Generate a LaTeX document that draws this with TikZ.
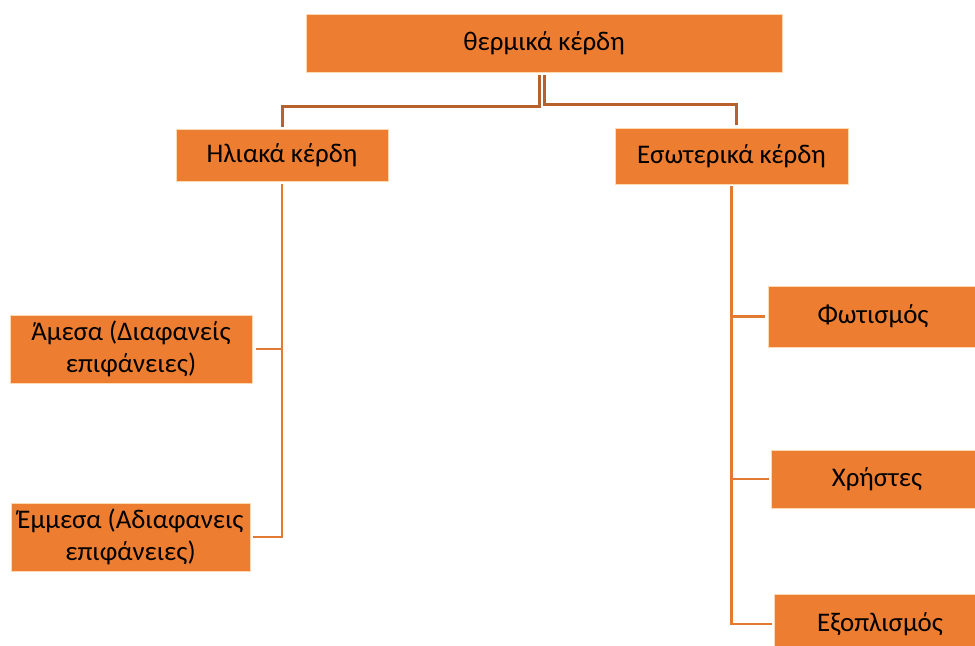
\documentclass[tikz,border=0pt]{standalone}
\usepackage{fontspec}
\setmainfont{Carlito}
\usetikzlibrary{positioning}

\definecolor{boxorange}{HTML}{ED7D31}
\definecolor{topline}{HTML}{B8612C}
\definecolor{subline}{HTML}{E27A34}

\newlength{\pxu}
\setlength{\pxu}{0.02cm}

\begin{document}
\begin{tikzpicture}[x=\pxu, y=-\pxu,
    every node/.style={align=center, font=\fontsize{15.3}{18.3}\selectfont, inner sep=0pt},
    gainbox/.style={fill=boxorange, draw=orange!30, line width=0.4pt},
    toplink/.style={draw=topline, line width=3\pxu},
    sublink/.style={draw=subline, line width=2.8\pxu}]

\useasboundingbox (0,0) rectangle (975,646);

% root
\node[gainbox, minimum width=476\pxu, minimum height=58\pxu] (thermal) at (544,43) {θερμικά κέρδη};

% second level
\node[gainbox, minimum width=212\pxu, minimum height=52\pxu] (solar) at (282,155) {Ηλιακά κέρδη};
\node[gainbox, minimum width=233\pxu, minimum height=56\pxu] (internal) at (731.5,156) {Εσωτερικά κέρδη};

% solar gains
\node[gainbox, minimum width=242\pxu, minimum height=68\pxu] (direct) at (131,349) {Άμεσα (Διαφανείς\\επιφάνειες)};
\node[gainbox, minimum width=239\pxu, minimum height=68\pxu] (indirect) at (130.5,537) {Έμμεσα (Αδιαφανεις\\επιφάνειες)};

% internal gains
\node[gainbox, minimum width=210\pxu, minimum height=61\pxu] (lighting) at (873,316.5) {Φωτισμός};
\node[gainbox, minimum width=212\pxu, minimum height=58\pxu] (users) at (877,479) {Χρήστες};
\node[gainbox, minimum width=212\pxu, minimum height=60\pxu] (equipment) at (880,624) {Εξοπλισμός};

% root to second level
\draw[toplink] ([xshift=-4.5\pxu, yshift=-3\pxu]thermal.south) -- ++(0,31) -| ([yshift=2\pxu]solar.north);
\draw[toplink] ([xshift=0.5\pxu, yshift=-3\pxu]thermal.south) -- ++(0,29) -| ([xshift=5\pxu, yshift=3\pxu]internal.north);

% solar gains branch
\draw[sublink] ([yshift=-3\pxu]solar.south) |- ([xshift=4\pxu]direct.east);
\draw[sublink] ([yshift=-3\pxu]solar.south) |- ([xshift=3\pxu]indirect.east);

% internal gains branch
\draw[sublink] ([yshift=-2\pxu]internal.south) |- ([xshift=-3\pxu]lighting.west);
\draw[sublink] ([yshift=-2\pxu]internal.south) |- ([xshift=-2\pxu]users.west);
\draw[sublink] ([yshift=-2\pxu]internal.south) |- ([xshift=-2\pxu]equipment.west);

\end{tikzpicture}
\end{document}
